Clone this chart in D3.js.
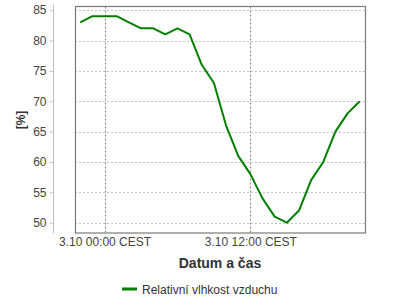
<!DOCTYPE html>
<html>
<head>
<meta charset="utf-8">
<script src="https://cdn.jsdelivr.net/npm/d3@7"></script>
<style>
  body { margin: 0; background: #fff; }
  text { font-family: "Liberation Sans", Arial, sans-serif; }
</style>
</head>
<body>
<div id="chart"></div>
<script>
// hourly readings, 2.10 22:00 .. 3.10 21:00
var times = ['2023-10-02T22:00', '2023-10-02T23:00', '2023-10-03T00:00', '2023-10-03T01:00',
    '2023-10-03T02:00', '2023-10-03T03:00', '2023-10-03T04:00', '2023-10-03T05:00',
    '2023-10-03T06:00', '2023-10-03T07:00', '2023-10-03T08:00', '2023-10-03T09:00',
    '2023-10-03T10:00', '2023-10-03T11:00', '2023-10-03T12:00', '2023-10-03T13:00',
    '2023-10-03T14:00', '2023-10-03T15:00', '2023-10-03T16:00', '2023-10-03T17:00',
    '2023-10-03T18:00', '2023-10-03T19:00', '2023-10-03T20:00', '2023-10-03T21:00'];
var humidity = [83, 84, 84, 84, 83, 82, 82, 81, 82, 81, 76, 73,
    66, 61, 58, 54, 51, 50, 52, 57, 60, 65, 68, 70];
var yTicks = [50, 55, 60, 65, 70, 75, 80, 85];
var seriesName = 'Relativní vlhkost vzduchu';
var xTitle = 'Datum a čas';
var yTitle = '[%]';

var width = 400, height = 300;
var margin = {left: 75, right: 35, top: 6.5, bottom: 67};
var parse = d3.timeParse('%Y-%m-%dT%H:%M');
var data = times.map(function(t, i) {
    return {date: parse(t), value: humidity[i]};
});

var svg = d3.select('#chart').append('svg')
    .attr('width', width)
    .attr('height', height);

var first = data[0].date, last = data[data.length - 1].date;
var x = d3.scaleTime()
    .domain([d3.timeMinute.offset(first, -26), d3.timeMinute.offset(last, 26)])
    .range([margin.left, width - margin.right]);
var y = d3.scaleLinear()
    .domain([48.3, 85.6])
    .range([height - margin.bottom, margin.top]);

var x0 = margin.left, x1 = width - margin.right;
var y0 = margin.top, y1 = height - margin.bottom;

// grid
var grid = svg.append('g');
grid.selectAll('.hgrid')
    .data(yTicks)
    .enter().append('line')
    .attr('class', 'hgrid')
    .attr('x1', x0).attr('x2', x1)
    .attr('y1', function(d) { return Math.round(y(d)) + 0.5; })
    .attr('y2', function(d) { return Math.round(y(d)) + 0.5; })
    .attr('stroke', '#c4c4c4')
    .attr('stroke-dasharray', '2,2');

var xTicks = x.ticks(d3.timeHour.every(12));
grid.selectAll('.vgrid')
    .data(xTicks)
    .enter().append('line')
    .attr('class', 'vgrid')
    .attr('x1', function(d) { return Math.round(x(d)) + 0.5; })
    .attr('x2', function(d) { return Math.round(x(d)) + 0.5; })
    .attr('y1', y0).attr('y2', y1)
    .attr('stroke', '#8a8a8a')
    .attr('stroke-dasharray', '2,2');

// y axis, detached from the plot frame
var yAxis = d3.axisLeft(y)
    .tickValues(yTicks)
    .tickSize(4)
    .tickPadding(3);
var yg = svg.append('g')
    .attr('transform', 'translate(53.5,0)')
    .call(yAxis);
yg.select('.domain')
    .attr('d', 'M0,' + (y0 - 2) + 'V' + y1)
    .attr('stroke', '#c0c0c0');
yg.selectAll('.tick line').attr('stroke', '#c0c0c0');
yg.selectAll('.tick text')
    .attr('fill', '#444')
    .style('font-size', '12px');

// x axis labels
var xAxis = d3.axisBottom(x)
    .tickValues(xTicks)
    .tickSize(0)
    .tickPadding(4)
    .tickFormat(d3.timeFormat('%-d.%-m %H:%M CEST'));
var xg = svg.append('g')
    .attr('transform', 'translate(0,' + y1 + ')')
    .call(xAxis);
xg.select('.domain').remove();
xg.selectAll('.tick text')
    .attr('fill', '#444')
    .style('font-size', '12px');

// series
var line = d3.line()
    .x(function(d) { return x(d.date); })
    .y(function(d) { return y(d.value); });
svg.append('path')
    .datum(data)
    .attr('d', line)
    .attr('fill', 'none')
    .attr('stroke', '#008000')
    .attr('stroke-width', 2)
    .attr('stroke-linejoin', 'round');

// plot frame
svg.append('rect')
    .attr('x', x0 + 0.5).attr('y', y0)
    .attr('width', x1 - x0).attr('height', y1 - y0)
    .attr('fill', 'none')
    .attr('stroke', '#7a7a7a')
    .attr('stroke-width', 1.2);

// titles
svg.append('text')
    .attr('x', (x0 + x1) / 2)
    .attr('y', 267.5)
    .attr('text-anchor', 'middle')
    .attr('fill', '#333')
    .style('font-size', '14px')
    .style('font-weight', 'bold')
    .text(xTitle);
svg.append('text')
    .attr('transform', 'translate(25,120) rotate(-90)')
    .attr('text-anchor', 'middle')
    .attr('fill', '#333')
    .style('font-size', '12px')
    .style('font-weight', 'bold')
    .text(yTitle);

// legend
var legend = svg.append('g').attr('transform', 'translate(122,289)');
legend.append('line')
    .attr('x1', 0).attr('x2', 15)
    .attr('stroke', '#008000')
    .attr('stroke-width', 3);
legend.append('text')
    .attr('x', 20)
    .attr('y', 4.5)
    .attr('fill', '#333')
    .style('font-size', '12px')
    .text(seriesName);
</script>
</body>
</html>
